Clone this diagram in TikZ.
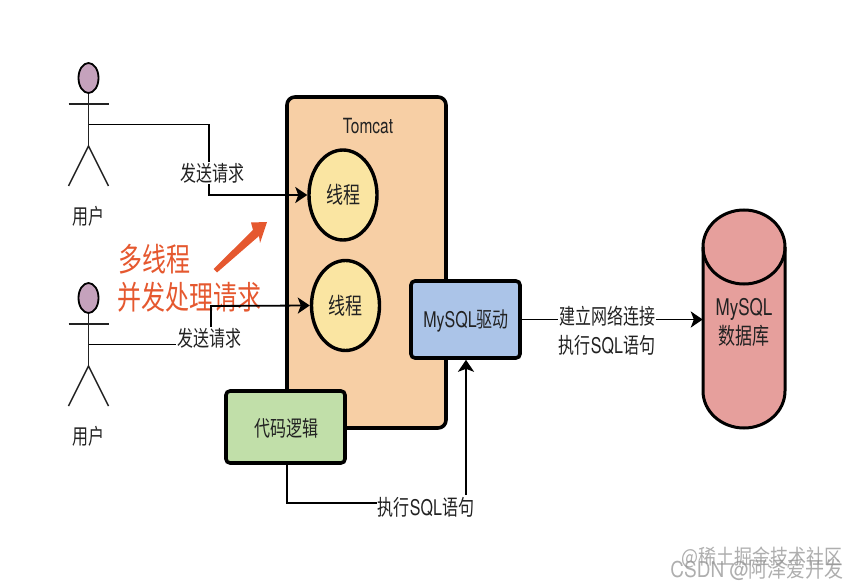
\documentclass[tikz,border=0pt]{standalone}
\usepackage{fontspec}
\usepackage{graphicx}
\setmainfont{Noto Sans CJK SC}
\newfontfamily\latf{TeX Gyre Heros}
\usetikzlibrary{arrows.meta,calc,shapes.geometric}
\definecolor{tomcatfill}{HTML}{F7CFA5}
\definecolor{threadfill}{HTML}{FAE5A2}
\definecolor{codefill}{HTML}{C1DFA9}
\definecolor{driverfill}{HTML}{ABC4E8}
\definecolor{dbfill}{HTML}{E69F9C}
\definecolor{headfill}{HTML}{C5A2BC}
\definecolor{noteorange}{HTML}{E5582F}
\definecolor{inktext}{HTML}{222222}
\newcommand\tall[1]{\scalebox{1}[1.35]{#1}}
\tikzset{
  boxed/.style={draw=black,line width=3.6pt,rounded corners=4pt},
  threadnode/.style={ellipse,draw=black,line width=3.4pt,fill=threadfill,minimum width=68pt,minimum height=90pt,inner sep=0pt,font=\fontsize{17}{20}\selectfont,text=inktext},
  tag/.style={font=\fontsize{16}{20}\selectfont,text=inktext,inner sep=1pt},
  whitetag/.style={tag,fill=white},
  conn/.style={line width=1.8pt,draw=black,line join=miter},
  arrowconn/.style={conn,-{Stealth[length=12pt,width=16pt,inset=3pt]}},
  stick/.style={line width=1.5pt,draw=inktext},
  headshape/.style={ellipse,draw=black,line width=1.8pt,fill=headfill,minimum width=20pt,minimum height=30pt,inner sep=0pt},
  notetext/.style={font=\fontsize{24}{29}\selectfont,text=noteorange,inner sep=0pt},
  wmark/.style={text=gray!85,inner sep=0pt,opacity=.75},
}
\begin{document}
\begin{tikzpicture}[x=1pt,y=-1pt]
\useasboundingbox (0,0) rectangle (860,588);
% Tomcat
\node[boxed,fill=tomcatfill,minimum width=159pt,minimum height=331pt,inner sep=0pt,rounded corners=8pt] (tomcat) at (366.5,262.5) {};
\node[font=\fontsize{15.5}{18}\latf\selectfont,text=inktext,inner sep=0pt] (tomcatlabel) at (368,126) {\tall{Tomcat}};
\node[threadnode] (t1) at (343,195) {\tall{线程}};
\node[threadnode] (t2) at (345.5,305.5) {\tall{线程}};
% users
\foreach \n/\yy in {ua/78,ub/298}{
  \node[headshape] (\n) at (88.5,\yy) {};
  \coordinate (\n-hip) at ($(\n)+(0,68)$);
  \coordinate (\n-w) at ($(\n)+(0,46.5)$);
  \draw[stick] (\n.south) -- (\n-hip);
  \draw[stick] ($(\n)+(-20,26)$) -- ($(\n)+(20,26)$);
  \draw[stick] ($(\n-hip)+(-20,40)$) -- (\n-hip) -- ($(\n-hip)+(20,40)$);
}
\node[tag] (ulabela) at (88,216) {\tall{用户}};
\node[tag] (ulabelb) at (88,436) {\tall{用户}};
% connector 1
\coordinate (abend) at (209,124.5);
\coordinate (abend2) at (209,195);
\draw[arrowconn] (ua-w) -- (abend) -- (abend2) -- (t1.west);
\node[whitetag] (req1) at (212,173) {\tall{发送请求}};
% connector 2
\coordinate (bbend) at (211,306);
\node[tag] (req2) at (209,338) {\tall{发送请求}};
\draw[conn] (ub-w) -- (ub-w -| req2.west);
\node[notetext,anchor=west] (notea) at (118,259) {\tall{多线程}};
\node[notetext,anchor=west] (noteb) at (117,297) {\tall{并发处理请求}};
\draw[arrowconn] (req2.north -| bbend) -- (bbend) -- (t2.west);
% orange arrow
\fill[noteorange] (213.5,269) -- (217,272.5) -- (259,236) -- (260,243) -- (267,222) -- (251,222.5) -- (253,230) -- cycle;
% code box
\node[boxed,fill=codefill,minimum width=119pt,minimum height=72pt,inner sep=0pt] (code) at (285.5,427) {};
\node[font=\fontsize{16}{20}\selectfont,text=inktext,inner sep=0pt] (codelabel) at (286,428) {\tall{代码逻辑}};
% driver
\node[boxed,fill=driverfill,minimum width=109pt,minimum height=77pt,inner sep=0pt] (driver) at (465.5,319.5) {};
\node[font=\fontsize{16}{20}\selectfont,text=inktext,inner sep=0pt] (driverlabel) at (466,321) {\tall{{\latf MySQL}驱动}};
% code -> driver
\coordinate (cdown) at (287,503);
\node[whitetag] (exec) at (426,507) {\tall{执行{\latf SQL}语句}};
\draw[conn] (code.south -| cdown) -- (cdown) -- (exec.west |- cdown);
\coordinate (dup) at (466,495);
\draw[arrowconn] (dup) -- (dup |- driver.south);
% database
\node[minimum width=82pt,minimum height=219pt,inner sep=0pt] (db) at (744,318.5) {};
\draw[draw=black,line width=3pt,fill=dbfill] (703,247) arc[x radius=41,y radius=37,start angle=180,end angle=360] -- (785,391) arc[x radius=41,y radius=37,start angle=0,end angle=180] -- cycle;
\draw[draw=black,line width=3pt] (703,247) arc[x radius=41,y radius=37,start angle=180,end angle=0];
\node[font=\fontsize{17}{29}\selectfont,text=inktext,align=center,inner sep=0pt] (dblabel) at (744,322) {\tall{\latf MySQL}\\\tall{数据库}};
% driver -> db
\draw[arrowconn] (driver.east) -- (driver.east -| db.west);
\node[whitetag] (neta) at (607,316) {\tall{建立网络连接}};
\node[whitetag] (netb) at (607,345) {\tall{执行{\latf SQL}语句}};
% watermarks
\node[wmark,anchor=east,font=\fontsize{18}{20}\selectfont] (wma) at (843,558) {\scalebox{1}[1.15]{@稀土掘金技术社区}};
\node[wmark,anchor=east,font=\fontsize{19}{20}\selectfont] (wmb) at (844,570) {\scalebox{1}[1.15]{{\latf CSDN @}阿泽爱开发}};
\end{tikzpicture}
\end{document}
